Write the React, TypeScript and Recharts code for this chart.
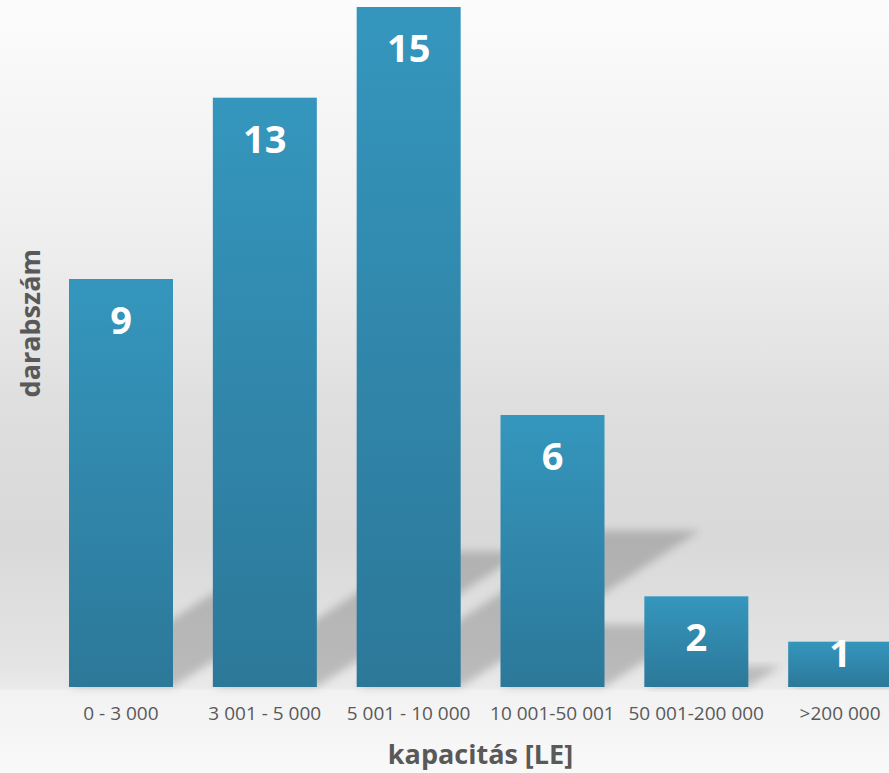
import React from "react";
import { BarChart, Bar, XAxis, YAxis, LabelList, Label } from "recharts";

// kapacitás kategóriák és darabszámok
const categories = [
  "0 - 3 000",
  "3 001 - 5 000",
  "5 001 - 10 000",
  "10 001-50 001",
  "50 001-200 000",
  ">200 000",
];
const counts = [9, 13, 15, 6, 2, 1];

const data = categories.map((name, i) => ({ name, value: counts[i] }));

const TEXT = "#595959";
const FONT = "'Open Sans', 'Noto Sans', sans-serif";

// bar with a skewed, blurred floor shadow behind it
const ShadowBar = (props: any) => {
  const { x, y, width, height } = props;
  const base = y + height;
  const dy = height * 0.23;
  const dx = dy * 1.53;
  const pts = [
    `${x},${base}`,
    `${x + width},${base}`,
    `${x + width + dx},${base - dy}`,
    `${x + dx},${base - dy}`,
  ].join(" ");
  return (
    <g>
      <polygon points={pts} fill="#000" fillOpacity={0.19} filter="url(#shadowBlur)" />
      <rect x={x} y={y} width={width} height={height} fill="url(#barGrad)" />
    </g>
  );
};

const ValueLabel = (props: any) => {
  const { x, y, width, height, value } = props;
  return (
    <text
      x={x + width / 2}
      y={y + Math.min(40, height - 35)}
      textAnchor="middle"
      dominantBaseline="central"
      fill="#ffffff"
      fontFamily={FONT}
      fontWeight={700}
      fontSize={38}
    >
      {value}
    </text>
  );
};

export default function App() {
  return (
    <div
      style={{
        position: "absolute",
        left: 0,
        top: 0,
        width: 889,
        height: 773,
        overflow: "hidden",
        background:
          "linear-gradient(to bottom, #fcfcfc 0%, #efefef 30%, #dddddd 55%, #d9d9d9 70%, #e4e4e4 86%, #eaeaea 89%, #f2f2f2 89.3%, #f9f9f9 100%)",
      }}
    >
      <BarChart
        width={912}
        height={773}
        data={data}
        margin={{ top: 7, right: 0, left: 0, bottom: 56 }}
      >
        <defs>
          <linearGradient id="barGrad" x1="0" y1="0" x2="0" y2="1">
            <stop offset="0%" stopColor="#3596bd" />
            <stop offset="100%" stopColor="#2c7899" />
          </linearGradient>
          <filter id="shadowBlur" x="-20%" y="-20%" width="140%" height="140%">
            <feGaussianBlur stdDeviation="4" />
          </filter>
        </defs>
        <XAxis
          dataKey="name"
          height={30}
          axisLine={false}
          tickLine={false}
          tickSize={0}
          tickMargin={20}
          interval={0}
          tick={{ fill: TEXT, fontSize: 19, fontFamily: FONT }}
        >
          <Label
            position="bottom"
            content={(p: any) => {
              const vb = p.viewBox;
              return (
                <text
                  x={vb.x + vb.width / 2}
                  y={vb.y + 77}
                  textAnchor="middle"
                  fill={TEXT}
                  fontFamily={FONT}
                  fontWeight={700}
                  fontSize={27}
                >
                  kapacitás [LE]
                </text>
              );
            }}
          />
        </XAxis>
        <YAxis
          width={49}
          domain={[0, 15]}
          axisLine={false}
          tickLine={false}
          tick={false}
        >
          <Label
            position="left"
            content={(p: any) => {
              const vb = p.viewBox;
              const cx = vb.x + 40;
              const cy = vb.y + vb.height * 0.465;
              return (
                <text
                  x={cx}
                  y={cy}
                  transform={`rotate(-90, ${cx}, ${cy})`}
                  textAnchor="middle"
                  fill={TEXT}
                  fontFamily={FONT}
                  fontWeight={700}
                  fontSize={27}
                >
                  darabszám
                </text>
              );
            }}
          />
        </YAxis>
        <Bar dataKey="value" barSize={104} shape={ShadowBar} isAnimationActive={false}>
          <LabelList dataKey="value" content={ValueLabel} />
        </Bar>
      </BarChart>
    </div>
  );
}
